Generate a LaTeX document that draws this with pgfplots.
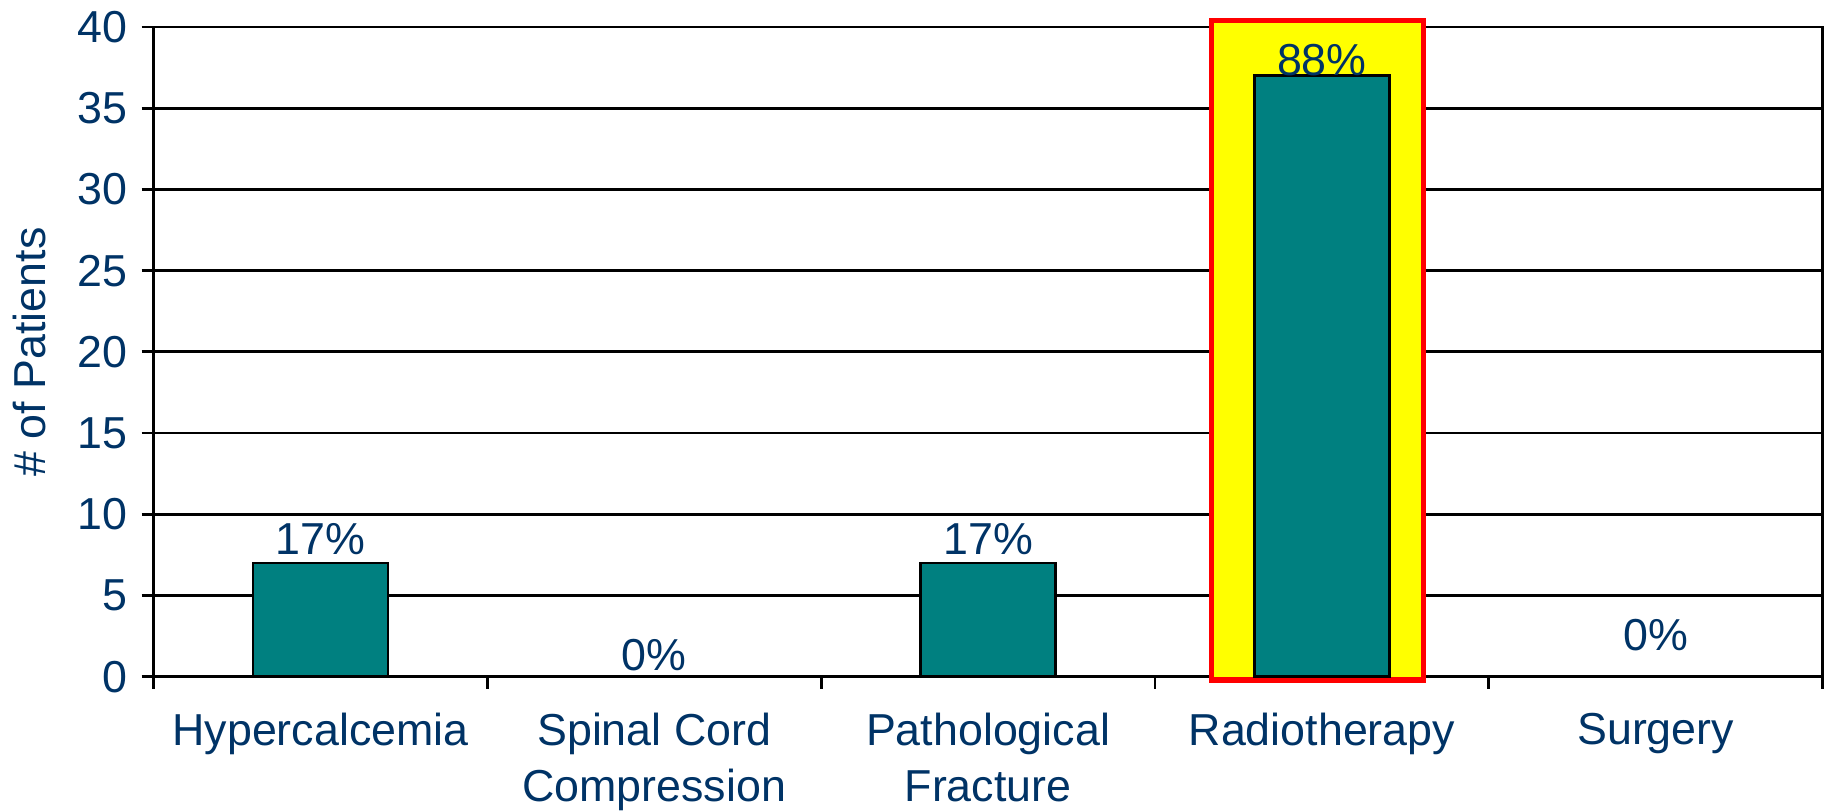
\documentclass[border=0pt]{standalone}
\usepackage{pgfplots}
\pgfplotsset{compat=1.18}
\usepackage{fontspec}
\setmainfont{Liberation Sans}
\definecolor{txtblue}{RGB}{0,51,102}
\definecolor{barteal}{RGB}{0,128,128}
\definecolor{hlyellow}{RGB}{255,255,0}
\begin{document}%
\begin{tikzpicture}[font=\fontsize{11.2}{14}\selectfont]
\begin{axis}[
  scale only axis,
  width=417.5pt, height=162.5pt,
  xmin=-0.5, xmax=4.5, ymin=0, ymax=40,
  ytick={0,5,...,40},
  xtick={0,1,2,3,4},
  xticklabels={Hypercalcemia,{Spinal Cord\\Compression},{Pathological\\Fracture},Radiotherapy,Surgery},
  minor xtick={-0.5,0.5,1.5,2.5,3.5,4.5},
  major x tick style={draw=none},
  xtick pos=bottom, ytick pos=left,
  tick align=outside,
  major tick length=3pt, minor tick length=3pt,
  every tick/.style={black, line width=0.7pt},
  ymajorgrids,
  major grid style={black, line width=0.7pt},
  axis line style={black, line width=0.7pt},
  tick label style={font=\fontsize{11.2}{14}\selectfont, text=txtblue},
  xticklabel style={align=center, inner sep=0pt, yshift=-6pt},
  yticklabel style={inner ysep=2.8pt},
  ylabel={\# of Patients},
  ylabel style={font=\fontsize{11.2}{14}\selectfont, text=txtblue, yshift=1pt},
  /pgf/number format/assume math mode=true,
  clip=false,
]
\draw[fill=hlyellow, draw=red, line width=1.3pt] (axis cs:2.67,-0.2) rectangle (axis cs:3.305,40.4);
\addplot[ybar, bar width=33.75pt, fill=barteal, draw=black, line width=0.7pt]
  coordinates {(0,7) (1,0) (2,7) (3,37) (4,0)};
\addplot[draw=none, mark=none, nodes near coords, point meta=explicit symbolic,
  every node near coord/.style={anchor=center, text=txtblue, font=\fontsize{11.2}{14}\selectfont}]
  coordinates {(0,8.47) [17\%] (1,1.33) [0\%] (2,8.47) [17\%] (3,37.95) [88\%] (4,2.57) [0\%]};
\end{axis}
\end{tikzpicture}%
\end{document}
